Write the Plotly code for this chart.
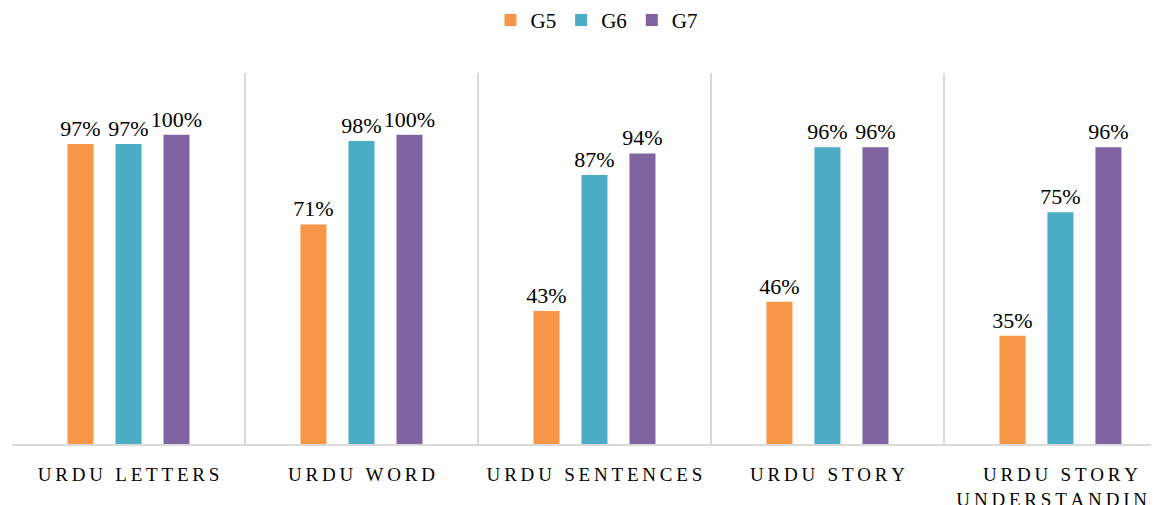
import plotly.graph_objects as go

categorias = ["URDU LETTERS", "URDU WORD", "URDU SENTENCES", "URDU STORY", "URDU STORY UNDERSTANDING"]
g5 = [97, 71, 43, 46, 35]
g6 = [97, 98, 87, 96, 75]
g7 = [100, 100, 94, 96, 96]

COLORES = {"G5": "#F79646", "G6": "#4BACC6", "G7": "#8064A2"}
FUENTE = "Liberation Serif, Times New Roman, serif"


def espaciado(texto):
    # letter spacing imitado con espacios finos
    palabras = texto.split(" ")
    if len(palabras) > 2:
        lineas = [" ".join(palabras[:2]), " ".join(palabras[2:])]
    else:
        lineas = [texto]
    return "<br>".join("\u2009".join(l) for l in lineas)


fig = go.Figure()
for nombre, valores in [("G5", g5), ("G6", g6), ("G7", g7)]:
    fig.add_trace(go.Bar(
        name=nombre,
        x=categorias,
        y=valores,
        marker=dict(color=COLORES[nombre], line=dict(width=0)),
        texttemplate="%{y}%",
        textposition="outside",
        constraintext="none",
        textfont=dict(family=FUENTE, size=22, color="#000000"),
        cliponaxis=False,
    ))

# el body de la página añade 8px, se compensa en los márgenes
fig.update_layout(
    width=1159,
    height=505,
    paper_bgcolor="white",
    plot_bgcolor="white",
    barmode="group",
    bargap=0.382,
    bargroupgap=0.458,
    margin=dict(l=4, r=8, t=65, b=69, autoexpand=False),
    font=dict(family=FUENTE, color="#000000"),
    legend=dict(
        orientation="h",
        x=0.51, xanchor="center",
        y=1.197, yanchor="top",
        yref="paper",
        font=dict(family=FUENTE, size=21, color="#000000"),
        itemwidth=30,
    ),
    xaxis=dict(
        type="category",
        categoryorder="array",
        categoryarray=categorias,
        tickvals=categorias,
        ticktext=[espaciado(c) for c in categorias],
        range=[-0.5, 4.423],
        tickson="boundaries",
        automargin=False,
        showgrid=True,
        gridcolor="#D9D9D9",
        gridwidth=1.5,
        showline=True,
        linecolor="#D9D9D9",
        linewidth=2,
        ticks="",
        ticklabelstandoff=12,
        tickfont=dict(family=FUENTE, size=19, color="#000000"),
    ),
    yaxis=dict(
        range=[0, 120],
        automargin=False,
        showgrid=False,
        zeroline=False,
        showticklabels=False,
        showline=False,
    ),
)

fig.write_html("out.html")
